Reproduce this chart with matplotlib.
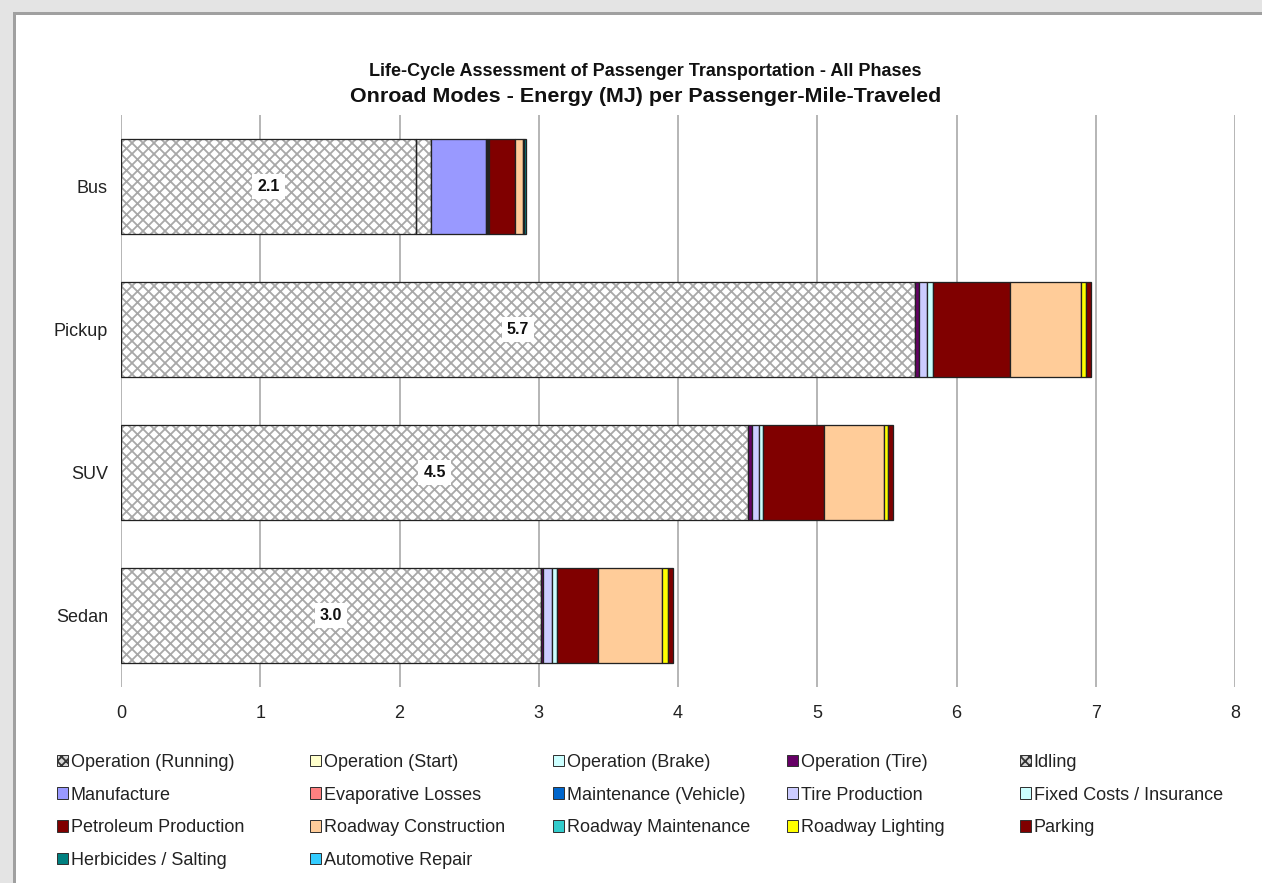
import matplotlib
matplotlib.use('Agg')
import matplotlib.pyplot as plt
from matplotlib.patches import Patch, Rectangle
import numpy as np

DPI = 132
W, H = 1262, 883


def pt(px):
    return px * 72.0 / DPI


FONT = ['Liberation Sans', 'DejaVu Sans']
plt.rcParams['font.family'] = FONT
plt.rcParams['hatch.linewidth'] = pt(1.8)

# ---------------- data ----------------
modes = ['Sedan', 'SUV', 'Pickup', 'Bus']   # bottom -> top

components = ['Operation (Running)', 'Operation (Start)', 'Operation (Brake)',
              'Operation (Tire)', 'Idling', 'Manufacture', 'Evaporative Losses',
              'Maintenance (Vehicle)', 'Tire Production', 'Fixed Costs / Insurance',
              'Petroleum Production', 'Roadway Construction', 'Roadway Maintenance',
              'Roadway Lighting', 'Parking', 'Herbicides / Salting', 'Automotive Repair']

colors = ['#ffffff', '#ffffcc', '#ccffff', '#660066', '#ffffff', '#9999ff', '#ff8080',
          '#0066cc', '#ccccff', '#ccffff', '#800000', '#ffcc99', '#33cccc',
          '#ffff00', '#800000', '#008080', '#33ccff']
hatched = [True, False, False, False, True] + [False] * 12

#            run    start brake tire   idle   manuf  evap maint  tirep  fixed  petro  constr rmaint light  park   herb   repair
sedan_vals  = [3.014, 0.0, 0.0, 0.014, 0.0,   0.0,   0.0, 0.0,   0.065, 0.040, 0.292, 0.457, 0.0,   0.043, 0.041, 0.0,   0.0]
suv_vals    = [4.505, 0.0, 0.0, 0.029, 0.0,   0.0,   0.0, 0.0,   0.050, 0.030, 0.437, 0.428, 0.0,   0.026, 0.041, 0.0,   0.0]
pickup_vals = [5.700, 0.0, 0.0, 0.033, 0.0,   0.0,   0.0, 0.0,   0.057, 0.043, 0.551, 0.508, 0.0,   0.036, 0.035, 0.0,   0.0]
bus_vals    = [2.120, 0.0, 0.0, 0.0,   0.108, 0.395, 0.0, 0.006, 0.008, 0.004, 0.186, 0.057, 0.008, 0.0,   0.0,   0.020, 0.0]

x_ticks = [0, 1, 2, 3, 4, 5, 6, 7, 8]

title_line1 = 'Life-Cycle Assessment of Passenger Transportation - All Phases'
title_line2 = 'Onroad Modes - Energy (MJ) per Passenger-Mile-Traveled'

# ---------------- figure ----------------
data = np.array([sedan_vals, suv_vals, pickup_vals, bus_vals])   # rows = modes
fig = plt.figure(figsize=(W / DPI, H / DPI), dpi=DPI, facecolor='#e4e4e4')

# white panel with grey border
panel = Rectangle((14 / W, -0.05), 1.2, 1 - 13 / H + 0.05, transform=fig.transFigure,
                  facecolor='white', edgecolor='#a0a0a0', linewidth=pt(3), zorder=-5)
fig.patches.append(panel)

ax = fig.add_axes([121 / W, 1 - 687 / H, (1235 - 121) / W, (687 - 115) / H])
ax.set_facecolor('none')
ax.set_zorder(1)

y = np.arange(len(modes))
bar_h = 0.66
left = np.zeros(len(modes))
edge_lw = pt(1.3)
for i, comp in enumerate(components):
    vals = data[:, i]
    lw = np.where(vals > 0, edge_lw, 0.0)
    if hatched[i]:
        ax.barh(y, vals, left=left, height=bar_h, color='white', hatch='xxxx',
                edgecolor='#a8a8a8', linewidth=0, zorder=2)
        ax.barh(y, vals, left=left, height=bar_h, fill=False,
                edgecolor='#222222', linewidth=lw, zorder=3)
    else:
        ax.barh(y, vals, left=left, height=bar_h, color=colors[i],
                edgecolor='#222222', linewidth=lw, zorder=3)
    left = left + vals

# value labels on running segment
for j in range(len(modes)):
    v = data[j, 0]
    ax.text(v / 2, y[j], f'{v:.1f}', ha='center', va='center', fontsize=pt(16),
            fontweight='bold', zorder=5, color='#111111',
            bbox=dict(facecolor='white', edgecolor='none', pad=pt(5)))

ax.set_xlim(0, 8)
ax.set_ylim(-0.5, len(modes) - 0.5)
ax.set_xticks(x_ticks)
ax.set_xticklabels([str(t) for t in x_ticks])
ax.set_yticks(y)
ax.set_yticklabels(modes)
ax.tick_params(axis='both', length=0, labelsize=pt(18), colors='#222222')
ax.tick_params(axis='x', pad=pt(18))
ax.tick_params(axis='y', pad=pt(13))
ax.xaxis.grid(True, color='#a0a0a0', linewidth=pt(1.5), zorder=0)
ax.set_axisbelow(True)
for s in ax.spines.values():
    s.set_visible(False)

# titles
fig.text(645 / W, 1 - 71 / H, title_line1, ha='center', va='center',
         fontsize=pt(18), fontweight='bold', color='#111111')
fig.text(646 / W, 1 - 97 / H, title_line2, ha='center', va='center',
         fontsize=pt(21.5), fontweight='bold', color='#111111')

# legend: 5 columns, row-major order
handles = []
for i, comp in enumerate(components):
    if hatched[i]:
        handles.append(Patch(facecolor='#d8d8d8', edgecolor='#333333', hatch='xxxxx',
                             linewidth=pt(1)))
    else:
        handles.append(Patch(facecolor=colors[i], edgecolor='#333333', linewidth=pt(1)))

col_x = [57, 310, 553, 787, 1020]
ncol = 5
for c in range(ncol):
    idx = list(range(c, len(components), ncol))
    leg = fig.legend([handles[k] for k in idx], [components[k] for k in idx],
                     loc='upper left', bbox_to_anchor=(col_x[c] / W, 1 - 754 / H),
                     frameon=False, fontsize=pt(18), borderpad=0, borderaxespad=0,
                     handlelength=0.62, handleheight=0.62, handletextpad=0.15,
                     labelspacing=0.87)
    for t in leg.get_texts():
        t.set_color('#222222')

fig.savefig('out.png', dpi=DPI, facecolor=fig.get_facecolor())
